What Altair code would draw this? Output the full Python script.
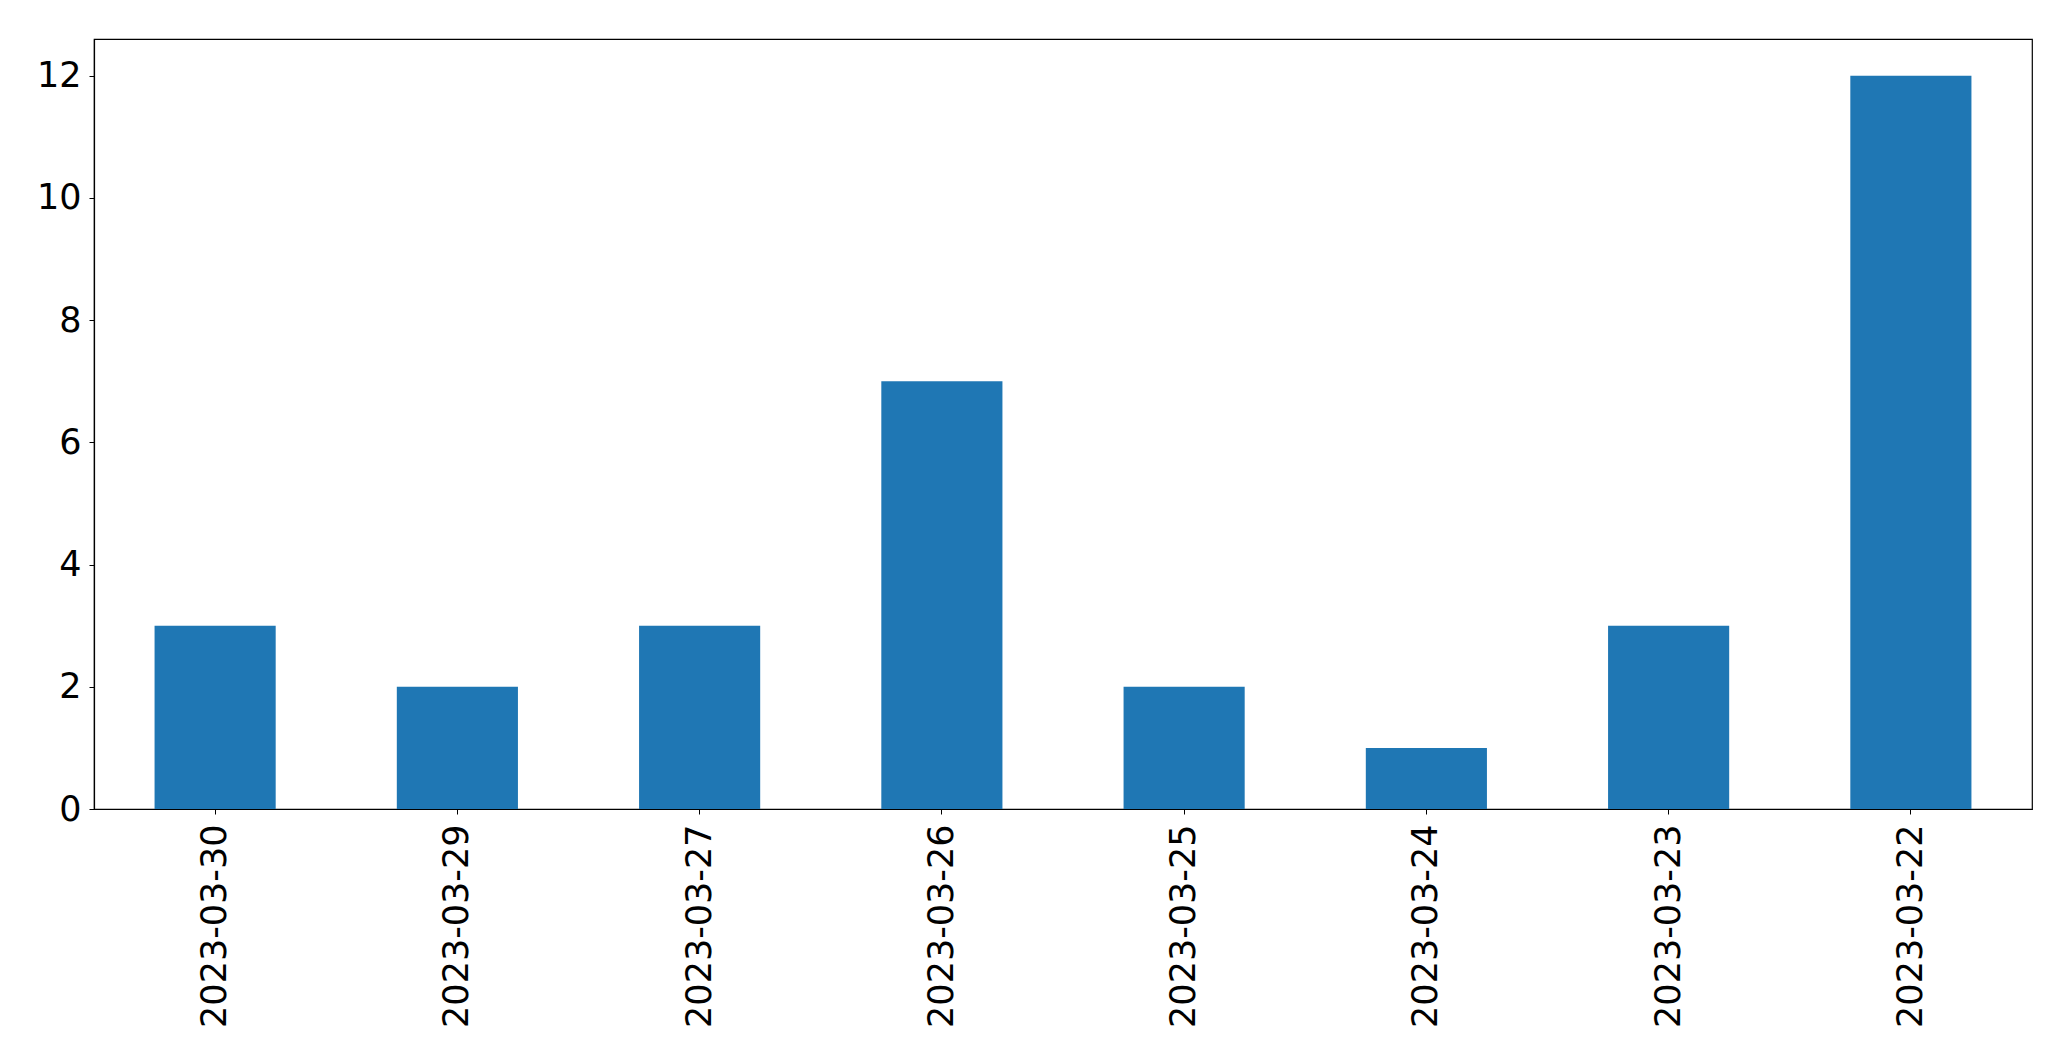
import altair as alt
import pandas as pd

dates = ["2023-03-30", "2023-03-29", "2023-03-27", "2023-03-26",
         "2023-03-25", "2023-03-24", "2023-03-23", "2023-03-22"]
counts = [3, 2, 3, 7, 2, 1, 3, 12]
y_ticks = [0, 2, 4, 6, 8, 10, 12]

df = pd.DataFrame({"date": dates, "count": counts})

chart = alt.Chart(df).mark_bar(color="#1f77b4").encode(
    x=alt.X("date:N", sort=dates, title=None,
            scale=alt.Scale(paddingInner=0.5, paddingOuter=0.25),
            axis=alt.Axis(labelAngle=-90, labelAlign="right", labelBaseline="middle",
                          labelFontSize=35, labelFont="DejaVu Sans", labelColor="black",
                          labelLimit=0,
                          tickColor="black", tickSize=5, labelPadding=10,
                          domainColor="black", domainWidth=1.2)),
    y=alt.Y("count:Q", title=None,
            scale=alt.Scale(domain=[0, 12.6], nice=False, zero=True),
            axis=alt.Axis(values=y_ticks, grid=False, labelFontSize=35,
                          labelFont="DejaVu Sans", labelColor="black",
                          tickColor="black", tickSize=5, labelPadding=8,
                          domainColor="black", domainWidth=1.2)),
).properties(
    width=1938, height=770,
    autosize=alt.AutoSizeParams(type="none"),
    padding={"left": 86, "top": 31, "right": 20, "bottom": 240},
).configure_view(stroke="black", strokeWidth=1.2)

chart.save("out.html", embed_options={"renderer": "svg", "actions": False})
